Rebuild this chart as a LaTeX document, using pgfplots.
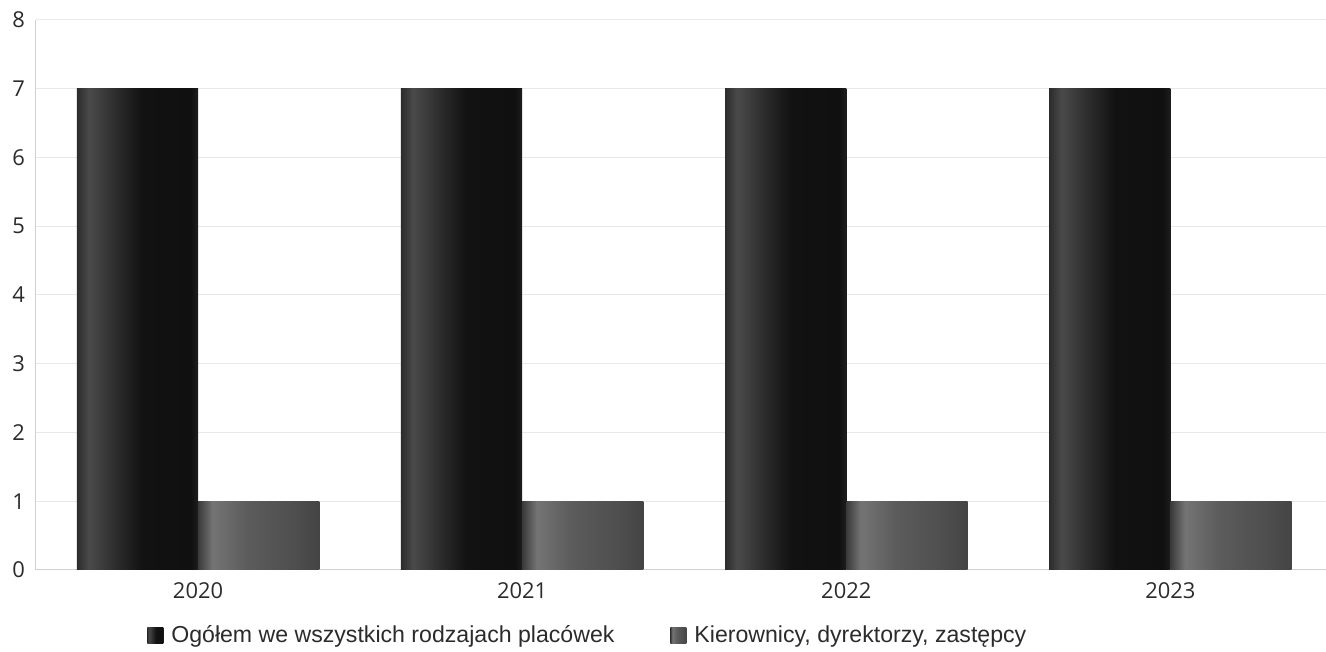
\documentclass[border=0pt]{standalone}
\usepackage{pgfplots}
\pgfplotsset{compat=1.18}
\usepackage{fontspec}
\setmainfont{Open Sans}
\newfontfamily\legfont{Liberation Sans}
\definecolor{txt}{HTML}{2B2B2B}
\definecolor{gridc}{HTML}{E8E8E8}
\definecolor{axc}{HTML}{D0D0D0}
\definecolor{dA}{HTML}{2C2C2C}
\definecolor{dB}{HTML}{4A4A4A}
\definecolor{dC}{HTML}{2A2A2A}
\definecolor{dD}{HTML}{121212}
\definecolor{dE}{HTML}{101010}
\definecolor{dF}{HTML}{1E1E1E}
\definecolor{gA}{HTML}{3A3A3A}
\definecolor{gB}{HTML}{747474}
\definecolor{gC}{HTML}{5C5C5C}
\definecolor{gD}{HTML}{4E4E4E}
\definecolor{gE}{HTML}{444444}
\pgfdeclarehorizontalshading{darkbar}{100bp}{color(0bp)=(dA); color(25bp)=(dA); color(30bp)=(dB); color(42bp)=(dC); color(52bp)=(dD); color(72bp)=(dE); color(75bp)=(dF); color(100bp)=(dF)}
\pgfdeclarehorizontalshading{graybar}{100bp}{color(0bp)=(gA); color(25bp)=(gA); color(31bp)=(gB); color(45bp)=(gC); color(65bp)=(gD); color(75bp)=(gE); color(100bp)=(gE)}
\pgfplotsset{
  s1/.style={ybar, bar width=0.374, bar shift=-0.187, draw=none, shading=darkbar},
  s2/.style={ybar, bar width=0.374, bar shift=0.187, draw=none, shading=graybar},
}
\begin{document}
\begin{tikzpicture}
\begin{axis}[
  name=ax,
  scale only axis,
  width=645bp, height=275bp,
  xmin=-0.5, xmax=3.48,
  ymin=0, ymax=8,
  ytick={0,1,...,8},
  xtick={0,1,2,3},
  xticklabels={2020,2021,2022,2023},
  axis x line*=bottom,
  axis y line*=left,
  axis line style={draw=axc, line width=0.5pt},
  major tick length=0pt,
  ymajorgrids,
  grid style={draw=gridc, line width=0.5pt},
  tick label style={font=\fontsize{11}{13}\selectfont, text=txt},
  /pgf/number format/assume math mode=true,
  yticklabel style={xshift=-2bp},
  xticklabel style={yshift=-3bp},
  legend style={at={(rel axis cs:0.086,-0.12)}, anchor=west, draw=none, fill=none, inner sep=0pt,
     font=\legfont\fontsize{11.6}{13}\selectfont, text=txt,
     /tikz/every even column/.append style={column sep=26bp}},
  legend columns=2,
  legend image code/.code={\path[#1] (0bp,-4bp) rectangle (8bp,4bp); \path (0bp,0bp) -- (10bp,0bp);},
]
\addplot[s1] coordinates {(0,7)};
\addplot[s2] coordinates {(0,1)};
\addplot[s1, forget plot] coordinates {(1,7)};
\addplot[s2, forget plot] coordinates {(1,1)};
\addplot[s1, forget plot] coordinates {(2,7)};
\addplot[s2, forget plot] coordinates {(2,1)};
\addplot[s1, forget plot] coordinates {(3,7)};
\addplot[s2, forget plot] coordinates {(3,1)};
\legend{Ogółem we wszystkich rodzajach placówek, {Kierownicy, dyrektorzy, zastępcy}}
\end{axis}
\pgfresetboundingbox
\path ([xshift=-18bp,yshift=-41bp]ax.south west) rectangle ([yshift=10bp]ax.north east);
\end{tikzpicture}
\end{document}
